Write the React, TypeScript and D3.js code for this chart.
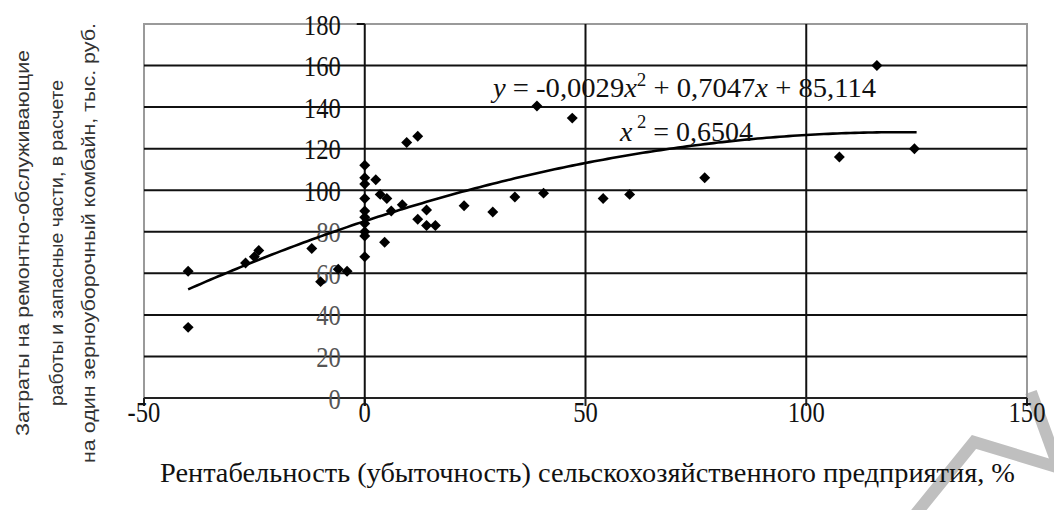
import React, { useEffect, useRef } from "react";
import * as d3 from "d3";

const width = 1054;
const height = 510;

// рентабельность предприятия, %
const profit = [
  -40, -40, -27, -25, -24, -12, -10, -6, -4,
  0, 0, 0, 0, 0, 0, 0, 0, 0, 0,
  2.5, 3.5, 5, 4.5, 6, 8.5, 9.5, 12, 12, 14, 14, 16,
  22.5, 29, 34, 39, 40.5, 47, 54, 60, 77, 107.5, 116, 124.5,
];
// затраты на комбайн, тыс. руб.
const costs = [
  61, 34, 65, 68, 71, 72, 56, 62, 61,
  112, 106, 103, 96, 90, 87, 84, 80, 78, 68,
  105, 98, 96, 75, 90, 93, 123, 126, 86, 90.5, 83, 83,
  92.5, 89.5, 96.7, 140.5, 98.6, 134.7, 96, 98, 106, 116, 160, 120,
];

const xTicks = [-50, 0, 50, 100, 150];
const yTicks = [0, 20, 40, 60, 80, 100, 120, 140, 160, 180];

// полиномиальный тренд: a*x^2 + b*x + c
const trendCoef = [-0.0029, 0.7047, 85.114];
const trendFrom = -40;
const trendTo = 125;

const yTitle = [
  "Затраты на ремонтно-обслуживающие",
  "работы и запасные части, в расчете",
  "на один зерноуборочный комбайн, тыс. руб.",
];
const xTitle = "Рентабельность (убыточность) сельскохозяйственного предприятия, %";

const serif = "'Liberation Serif', 'Times New Roman', serif";

const App = () => {
  const svgRef = useRef(null);

  useEffect(() => {
    const svg = d3.select(svgRef.current);
    svg.selectAll("*").remove();

    const x = d3.scaleLinear().domain([-50, 150]).range([144, 1027]);
    const y = d3.scaleLinear().domain([0, 180]).range([398, 24]);

    // серые полосы водяного знака
    const wm = svg
      .append("g")
      .attr("fill", "none")
      .attr("stroke", "#bfbfbf")
      .attr("stroke-width", 12)
      .attr("stroke-linejoin", "miter");
    wm.append("path").attr("d", "M1031,392 L1058,466");
    wm.append("path").attr("d", "M914,516 L974,442 L1060,468");

    // рамка области построения
    svg
      .append("rect")
      .attr("x", x(-50))
      .attr("y", y(180))
      .attr("width", x(150) - x(-50))
      .attr("height", y(0) - y(180))
      .attr("fill", "none")
      .attr("stroke", "#9a9a9a")
      .attr("stroke-width", 2);

    // горизонтальная сетка
    svg
      .append("g")
      .selectAll("line")
      .data(yTicks.filter((d) => d > 0 && d < 180))
      .join("line")
      .attr("x1", x(-50))
      .attr("x2", x(150))
      .attr("y1", (d) => y(d))
      .attr("y2", (d) => y(d))
      .attr("stroke", "#111")
      .attr("stroke-width", 2);

    // вертикальная сетка
    svg
      .append("g")
      .selectAll("line")
      .data([50, 100])
      .join("line")
      .attr("x1", (d) => x(d))
      .attr("x2", (d) => x(d))
      .attr("y1", y(180))
      .attr("y2", y(0))
      .attr("stroke", "#111")
      .attr("stroke-width", 2);

    // ось X и засечки
    svg
      .append("line")
      .attr("x1", x(-50))
      .attr("x2", x(150))
      .attr("y1", y(0))
      .attr("y2", y(0))
      .attr("stroke", "#222")
      .attr("stroke-width", 2);
    svg
      .append("g")
      .selectAll("line")
      .data(xTicks)
      .join("line")
      .attr("x1", (d) => x(d))
      .attr("x2", (d) => x(d))
      .attr("y1", y(0))
      .attr("y2", y(0) + 8)
      .attr("stroke", "#222")
      .attr("stroke-width", 2);

    // ось Y через ноль
    svg
      .append("line")
      .attr("x1", x(0))
      .attr("x2", x(0))
      .attr("y1", y(180))
      .attr("y2", y(0) + 8)
      .attr("stroke", "#111")
      .attr("stroke-width", 2);
    svg
      .append("line")
      .attr("x1", x(0) - 8)
      .attr("x2", x(0))
      .attr("y1", y(180))
      .attr("y2", y(180))
      .attr("stroke", "#111")
      .attr("stroke-width", 2);

    // подписи делений
    svg
      .append("g")
      .selectAll("text")
      .data(yTicks)
      .join("text")
      .attr("transform", (d) => `translate(${x(0) - 24},${y(d)}) scale(0.82,1)`)
      .attr("dy", "0.35em")
      .attr("text-anchor", "end")
      .style("font", `30px ${serif}`)
      .attr("fill", (d) => (d < 100 ? "#555" : "#111"))
      .text((d) => d);

    svg
      .append("g")
      .selectAll("text")
      .data(xTicks)
      .join("text")
      .attr("transform", (d) => `translate(${x(d)},${y(0) + 13}) scale(0.82,1)`)
      .attr("dy", "0.35em")
      .attr("text-anchor", "middle")
      .style("font", `30px ${serif}`)
      .attr("fill", "#111")
      .text((d) => d);

    // линия тренда
    const [a, b, c] = trendCoef;
    const line = d3
      .line()
      .x((d) => x(d))
      .y((d) => y(a * d * d + b * d + c));
    svg
      .append("path")
      .datum(d3.range(trendFrom, trendTo + 0.01, 1))
      .attr("d", line)
      .attr("fill", "none")
      .attr("stroke", "#000")
      .attr("stroke-width", 2.6);

    // точки
    const diamond = d3.symbol().type(d3.symbolSquare).size(60);
    svg
      .append("g")
      .selectAll("path")
      .data(profit.map((p, i) => [p, costs[i]]))
      .join("path")
      .attr("d", diamond)
      .attr("transform", (d) => `translate(${x(d[0])},${y(d[1])}) rotate(45)`)
      .attr("fill", "#000");

    // уравнение
    const eq = svg
      .append("text")
      .attr("x", 493)
      .attr("y", 97)
      .attr("textLength", 383)
      .attr("lengthAdjust", "spacingAndGlyphs")
      .style("font", `27px ${serif}`)
      .attr("fill", "#111");
    eq.append("tspan").style("font-style", "italic").text("y");
    eq.append("tspan").text(" = -0,0029");
    eq.append("tspan").style("font-style", "italic").text("x");
    eq.append("tspan").attr("dy", -11).style("font-size", "18px").text("2");
    eq.append("tspan").attr("dy", 11).text(" + 0,7047");
    eq.append("tspan").style("font-style", "italic").text("x");
    eq.append("tspan").text(" + 85,114");

    const r2 = svg
      .append("text")
      .attr("x", 620)
      .attr("y", 141)
      .attr("textLength", 133)
      .attr("lengthAdjust", "spacingAndGlyphs")
      .style("font", `27px ${serif}`)
      .attr("fill", "#111");
    r2.append("tspan").style("font-style", "italic").text("x");
    r2.append("tspan").attr("dy", -13).style("font-size", "18px").text(" 2");
    r2.append("tspan").attr("dy", 13).text(" = 0,6504");

    // подписи осей
    svg
      .append("text")
      .attr("x", 160)
      .attr("y", 482)
      .attr("textLength", 855)
      .attr("lengthAdjust", "spacingAndGlyphs")
      .style("font", `27px ${serif}`)
      .attr("fill", "#111")
      .text(xTitle);

    const lens = [386, 326, 440];
    const cols = [29, 63, 95];
    svg
      .append("g")
      .selectAll("text")
      .data(yTitle)
      .join("text")
      .attr("transform", (d, i) => `translate(${cols[i]},${243}) rotate(-90)`)
      .attr("text-anchor", "middle")
      .attr("textLength", (d, i) => lens[i])
      .attr("lengthAdjust", "spacingAndGlyphs")
      .style("font", "19px 'Liberation Sans', Arial, sans-serif")
      .attr("fill", "#333")
      .text((d) => d);
  }, []);

  return (
    <svg
      ref={svgRef}
      width={width}
      height={height}
      viewBox={`0 0 ${width} ${height}`}
      style={{ position: "absolute", left: 0, top: 0, background: "#fff" }}
    />
  );
};

export default App;
